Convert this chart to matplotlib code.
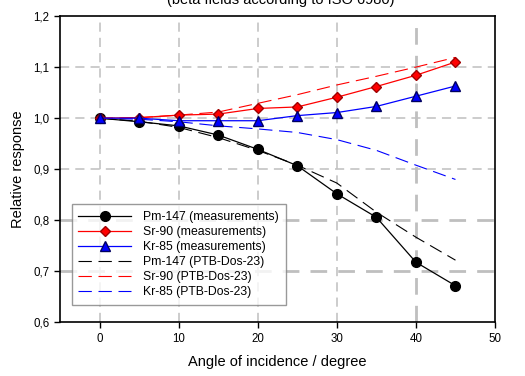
import matplotlib
matplotlib.use("Agg")
import matplotlib.pyplot as plt
from matplotlib.ticker import FuncFormatter

plt.rcParams['font.family'] = ['Liberation Sans', 'DejaVu Sans']

# angles of incidence (degree)
angles = [0, 5, 10, 15, 20, 25, 30, 35, 40, 45]

# measurements
pm147_meas = [1.000, 0.993, 0.985, 0.967, 0.939, 0.907, 0.852, 0.806, 0.718, 0.672]
sr90_meas = [1.000, 1.001, 1.006, 1.008, 1.019, 1.022, 1.041, 1.062, 1.084, 1.110]
kr85_meas = [1.000, 1.000, 0.995, 0.995, 0.995, 1.005, 1.011, 1.023, 1.043, 1.063]

# PTB-Dos-23 calculations
pm147_ptb = [1.000, 0.994, 0.982, 0.962, 0.937, 0.908, 0.873, 0.816, 0.767, 0.722]
sr90_ptb = [1.000, 1.001, 1.006, 1.012, 1.029, 1.046, 1.065, 1.082, 1.100, 1.119]
kr85_ptb = [1.000, 0.998, 0.993, 0.985, 0.979, 0.972, 0.958, 0.937, 0.908, 0.880]

fig = plt.figure(figsize=(5.25, 3.76), dpi=100)
ax = fig.add_axes([0.1143, 0.1423, 0.8286, 0.8151])

# grid
for gx in [0, 10, 20, 30, 40]:
    ax.axvline(gx, color='#bfbfbf', ls=(0, (6, 4)), lw=2.0 if gx == 40 else 1.1, zorder=0)
for gy in [0.7, 0.8, 0.9, 1.0, 1.1]:
    ax.axhline(gy, color='#bfbfbf', ls=(0, (6, 4)), lw=2.0 if gy < 0.85 else 1.1, zorder=0)

ax.plot(angles, pm147_meas, color='black', lw=0.9, marker='o', ms=7,
        mfc='black', mec='black', label='Pm-147 (measurements)', zorder=3)
ax.plot(angles, sr90_meas, color='red', lw=0.9, marker='D', ms=5.5,
        mfc='red', mec='#a00000', label='Sr-90 (measurements)', zorder=3)
ax.plot(angles, kr85_meas, color='blue', lw=0.9, marker='^', ms=6.5,
        mfc='blue', mec='#000060', label='Kr-85 (measurements)', zorder=3)
ax.plot(angles, pm147_ptb, color='black', lw=0.8, ls=(0, (12, 6)),
        label='Pm-147 (PTB-Dos-23)', zorder=2)
ax.plot(angles, sr90_ptb, color='red', lw=0.8, ls=(0, (12, 6)),
        label='Sr-90 (PTB-Dos-23)', zorder=2)
ax.plot(angles, kr85_ptb, color='blue', lw=0.8, ls=(0, (12, 6)),
        label='Kr-85 (PTB-Dos-23)', zorder=2)

ax.set_xlim(-5, 50)
ax.set_ylim(0.6, 1.2)
ax.set_xticks([0, 10, 20, 30, 40, 50])
ax.set_yticks([0.6, 0.7, 0.8, 0.9, 1.0, 1.1, 1.2])
ax.yaxis.set_major_formatter(FuncFormatter(lambda v, p: f"{v:.1f}".replace('.', ',')))
ax.tick_params(labelsize=8.3, length=4, width=1, colors='black')
for s in ax.spines.values():
    s.set_linewidth(1.2)

ax.set_xlabel('Angle of incidence / degree', fontsize=10.5, labelpad=7)
ax.set_ylabel('Relative response', fontsize=10.5, labelpad=6)

leg = ax.legend(loc='lower left', bbox_to_anchor=(0.027, 0.057), fontsize=8.8,
                frameon=True, fancybox=False, edgecolor='#808080',
                handlelength=4.3, handletextpad=1.0, labelspacing=0.25,
                borderpad=0.55, borderaxespad=0)
leg.get_frame().set_linewidth(1.0)

fig.text(0.535, 1.0, '(beta fields according to ISO 6980)', ha='center', va='center',
         fontsize=10.5)

fig.savefig('out.png', dpi=100)
